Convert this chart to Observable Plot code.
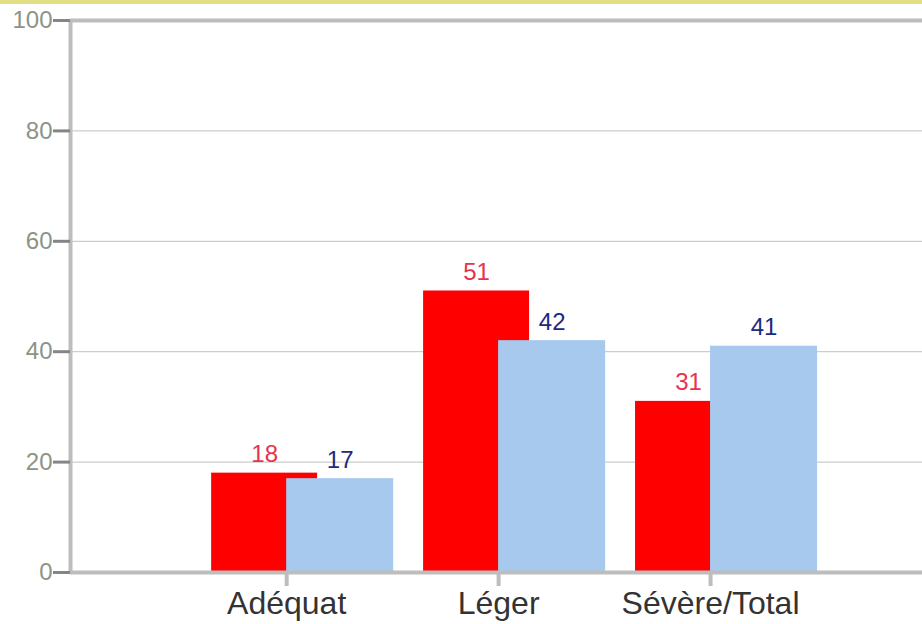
<!DOCTYPE html>
<html><head><meta charset="utf-8">
<script src="https://cdn.jsdelivr.net/npm/d3@7"></script>
<script src="https://cdn.jsdelivr.net/npm/@observablehq/plot@0.6"></script>
<style>
body{margin:0;background:#fff;font-family:"Liberation Sans",Arial,sans-serif}
#band{height:4px;background:#e2de84}
#chart svg{display:block}
</style></head><body><div id="band"></div><div id="chart"></div>
<script>
const categories = ["Adéquat", "Léger", "Sévère/Total"];
const redValues = [18, 51, 31];
const blueValues = [17, 42, 41];
const yTicks = [0, 20, 40, 60, 80, 100];

const rows = categories.map((c, i) => ({cat: c, pos: i + 1, red: redValues[i], blue: blueValues[i]}));

const plot = Plot.plot({
  width: 922, height: 620,
  marginTop: 16, marginBottom: 52, marginLeft: 70, marginRight: 0,
  style: {fontFamily: "Liberation Sans, Arial, sans-serif", background: "#fff"},
  x: {type: "linear", domain: [-0.02, 4], axis: null},
  y: {domain: [0, 100], axis: null},
  marks: [
    Plot.ruleY(yTicks.filter(t => t > 0 && t < 100), {stroke: "#c0c0c0", strokeWidth: 1}),
    Plot.ruleY([100], {stroke: "#bdbdbd", strokeWidth: 4}),
    Plot.rectY(rows, {x1: d => d.pos - 0.354, x2: d => d.pos + 0.146, y: "red", fill: "#ff0000"}),
    Plot.rectY(rows, {x1: "pos", x2: d => d.pos + 0.505, y: "blue", fill: "#a7c9ee"}),
    Plot.ruleY([0], {stroke: "#bdbdbd", strokeWidth: 4}),
    Plot.ruleX([-0.02], {stroke: "#bdbdbd", strokeWidth: 4}),
    Plot.axisY({ticks: yTicks, tickSize: 17, tickPadding: 1, stroke: "#858585", strokeWidth: 3,
      fill: "#8b9486", fontSize: 24, label: null, tickFormat: d => String(d)}),
    Plot.axisX({ticks: [1, 2, 3], tickFormat: d => categories[d - 1], tickSize: 14, tickPadding: 5,
      stroke: "#bdbdbd", strokeWidth: 4, fill: "#333", fontSize: 32, label: null}),
    Plot.text(rows, {x: d => d.pos - 0.104, y: "red", text: d => String(d.red), dy: -11,
      lineAnchor: "bottom", fill: "#e8334e", fontSize: 24}),
    Plot.text(rows, {x: d => d.pos + 0.2525, y: "blue", text: d => String(d.blue), dy: -11,
      lineAnchor: "bottom", fill: "#1c2a80", fontSize: 24})
  ]
});
document.getElementById("chart").append(plot);
</script></body></html>
